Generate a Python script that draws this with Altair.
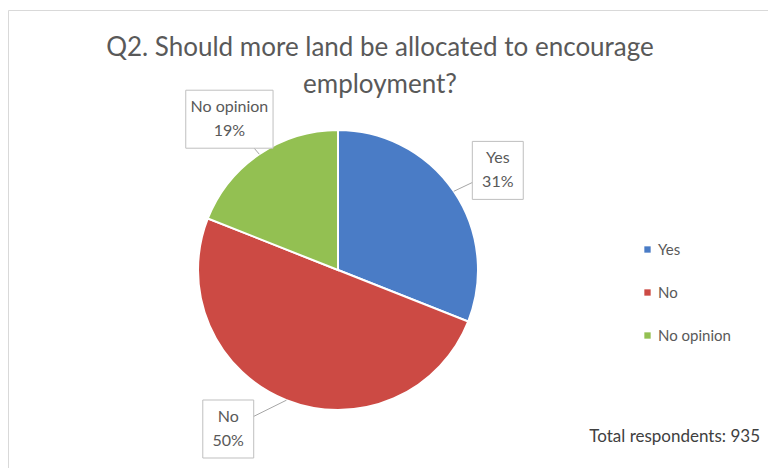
import math
import altair as alt
import pandas as pd

# ---- data ----
categories = ["Yes", "No", "No opinion"]
values = [31, 50, 19]
colors = ["#4a7cc6", "#cc4a44", "#93c052"]
title_lines = ["Q2. Should more land be allocated to encourage", "employment?"]
footnote = "Total respondents: 935"

FONT = "Lato"
W, H = 760, 458
R = 140.0  # pie radius in px == one data unit
CX, CY = 330.0, 260.0  # pie centre inside the view (px)
xdom = [-CX / R, (W - CX) / R]
ydom = [-(H - CY) / R, CY / R]
LAB_FS = 16
LAB_LH = 24
LAB_DROP = 9 / R  # callouts sit slightly below their ring position


def text_w(s):
    """rough text width (px) at 15px, scaled to label font"""
    w = 0.0
    for ch in s:
        if ch.isdigit():
            w += 8.5
        elif ch == "%":
            w += 12
        elif ch == " ":
            w += 3.5
        elif ch in "il":
            w += 3.2
        elif ch.isupper():
            w += 10
        else:
            w += 7.2
    return w * LAB_FS / 15


# ---- derived table ----
total = sum(values)
rows = []
cum = 0.0
for i, (c, v) in enumerate(zip(categories, values)):
    mid = (cum + v / 2) / total * 2 * math.pi
    cum += v
    pct = f"{round(v / total * 100)}%"
    lab_r = 1.38
    lx, ly = math.sin(mid) * lab_r, math.cos(mid) * lab_r - LAB_DROP
    hw = (max(text_w(c), text_w(pct)) + 20) / 2 / R
    hh = 29 / R
    floor = ydom[0] + hh + 10 / R
    if ly < floor:  # keep the callout inside the frame, sliding it along the ring
        ly = floor
        lx = math.copysign(math.sqrt(max(lab_r ** 2 - ly ** 2, 0)), lx)
    rows.append(dict(cat=c, value=v, idx=i, pct=pct, label=[c, pct],
                     ex=math.sin(mid) * 1.0, ey=math.cos(mid) * 1.0,
                     lx=lx, ly=ly, x1=lx - hw, x2=lx + hw, y1=ly - hh, y2=ly + hh,
                     cx=0.0, cy=0.0))
df = pd.DataFrame(rows)
one = pd.DataFrame({"k": [0]})

xs = alt.Scale(domain=xdom, nice=False, zero=False)
ys = alt.Scale(domain=ydom, nice=False, zero=False)

color = alt.Color(
    "cat:N",
    scale=alt.Scale(domain=categories, range=colors),
    sort=categories,
    legend=alt.Legend(
        title=None, orient="none", legendX=632, legendY=232,
        symbolType="square", symbolSize=40, symbolStrokeWidth=0,
        labelFont=FONT, labelFontSize=15, labelColor="#595959",
        rowPadding=27, padding=0, labelOffset=3,
    ),
)

base = alt.Chart(df)

pie = base.mark_arc(outerRadius=R, stroke="white", strokeWidth=2).encode(
    theta=alt.Theta("value:Q", stack=True),
    color=color,
    order=alt.Order("idx:Q"),
    x=alt.X("cx:Q", scale=xs, axis=None),
    y=alt.Y("cy:Q", scale=ys, axis=None),
)

leaders = base.mark_rule(color="#a6a6a6", strokeWidth=1).encode(
    x=alt.X("ex:Q", scale=xs, axis=None),
    y=alt.Y("ey:Q", scale=ys, axis=None),
    x2="lx:Q", y2="ly:Q",
)

boxes = base.mark_rect(fill="white", stroke="#bfbfbf", strokeWidth=1).encode(
    x=alt.X("x1:Q", scale=xs, axis=None),
    x2="x2:Q",
    y=alt.Y("y1:Q", scale=ys, axis=None),
    y2="y2:Q",
)

labels = base.mark_text(font=FONT, fontSize=LAB_FS, color="#595959",
                        lineHeight=LAB_LH, baseline="middle", align="center",
                        dy=-LAB_LH / 2).encode(
    x=alt.X("lx:Q", scale=xs, axis=None),
    y=alt.Y("ly:Q", scale=ys, axis=None),
    text="label",
)

title = alt.Chart(one).mark_text(
    text=title_lines, font=FONT, fontSize=26, color="#595959",
    lineHeight=37, align="center", baseline="middle",
).encode(x=alt.value(372), y=alt.value(38))

foot = alt.Chart(one).mark_text(
    text=footnote, font=FONT, fontSize=17, color="#404040",
    align="right", baseline="middle",
).encode(x=alt.value(752), y=alt.value(427))

chart = alt.layer(pie, leaders, boxes, labels, title, foot).properties(
    width=W, height=H,
    padding={"left": 0, "top": 2, "right": 0, "bottom": 0},
    autosize=alt.AutoSizeParams(type="none"),
    background="white",
).configure_view(stroke="#d9d9d9", strokeWidth=1)

chart.save("out.html", embed_options={"renderer": "svg", "actions": False})
